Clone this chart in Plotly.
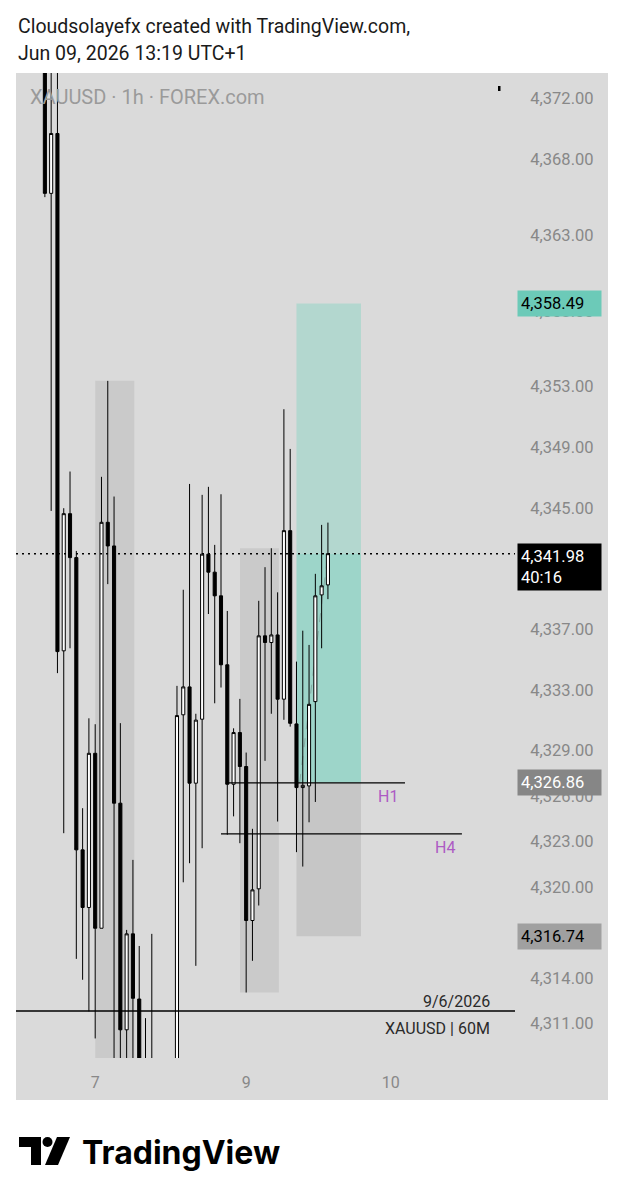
import plotly.graph_objects as go

W, H = 624, 1200

# ---------------- data ----------------
bar_index = list(range(46))
opens = [4376.5, 4365.75, 4369.7, 4335.57, 4344.62, 4341.72, 4322.44, 4318.64, 4328.81, 4317.27,
         4344.05, 4342.49, 4325.52, 4310.57, 4316.9, 4312.6, 4308.0, 4305.5, 4306.8, 4303.0,
         4305.0, 4306.0, 4331.35, 4333.19, 4326.84, 4331.06, 4341.95, 4340.76, 4339.2, 4334.65,
         4326.77, 4330.18, 4327.94, 4317.78, 4319.87, 4336.56, 4336.12, 4336.62, 4332.38, 4343.5,
         4330.75, 4326.55, 4326.66, 4332.22, 4339.26, 4339.92]
highs = [4379.0, 4377.0, 4375.0, 4344.98, 4347.4, 4342.16, 4325.19, 4331.12, 4330.73, 4347.05,
         4353.38, 4345.75, 4330.8, 4317.16, 4321.78, 4316.1, 4311.34, 4316.9, 4308.2, 4307.5,
         4308.0, 4333.26, 4339.6, 4346.58, 4331.42, 4345.86, 4346.39, 4342.56, 4345.9, 4338.2,
         4330.46, 4332.4, 4328.86, 4323.83, 4338.87, 4341.09, 4342.34, 4339.43, 4351.51, 4348.89,
         4334.86, 4336.9, 4335.96, 4340.65, 4343.88, 4344.03]
lows = [4365.5, 4344.8, 4334.1, 4323.54, 4335.74, 4315.25, 4313.87, 4311.78, 4310.0, 4317.27,
        4339.97, 4306.0, 4307.0, 4307.5, 4307.0, 4305.0, 4303.5, 4302.0, 4301.0, 4299.5,
        4300.5, 4302.5, 4320.3, 4321.56, 4314.79, 4322.55, 4338.0, 4332.11, 4333.15, 4323.44,
        4324.65, 4322.88, 4313.03, 4315.12, 4318.77, 4328.31, 4331.42, 4324.31, 4331.02, 4330.57,
        4322.29, 4321.34, 4324.26, 4325.6, 4335.74, 4338.98]
closes = [4365.75, 4369.7, 4335.52, 4344.62, 4341.72, 4322.44, 4318.64, 4328.81, 4317.27, 4344.05,
          4342.49, 4325.52, 4310.57, 4316.9, 4312.65, 4308.0, 4305.5, 4306.8, 4303.0, 4305.0,
          4306.0, 4331.3, 4333.19, 4326.84, 4331.0, 4341.95, 4340.76, 4339.2, 4334.65, 4326.77,
          4330.18, 4327.94, 4317.78, 4319.8, 4336.56, 4336.12, 4336.62, 4332.38, 4343.5, 4330.79,
          4326.55, 4326.7, 4332.04, 4339.2, 4339.86, 4341.98]

day_tick_bars = [8, 32, 55]
day_tick_labels = ["7", "9", "10"]

price_tick_vals = [4372, 4368, 4363, 4358, 4353, 4349, 4345, 4337, 4333, 4329, 4326,
                   4323, 4320, 4314, 4311]
price_tick_text = [f"{v:,.2f}" for v in price_tick_vals]

last_price = 4341.98
countdown = "40:16"
target_price = 4358.49
entry_price = 4326.86
stop_price = 4316.74
h1_level = 4326.86
h4_level = 4323.49
date_line_level = 4311.81
zone_left_top = 4353.38
zone_mid_top = 4342.34
zone_mid_bottom = 4313.03

X_RANGE = [-4.59, 74.74]
Y_RANGE = [4308.71, 4373.69]

def pxx(p):
    return p / W

def pxy(p):
    return 1 - p / H

fig = go.Figure()

fig.add_trace(go.Candlestick(
    x=bar_index, open=opens, high=highs, low=lows, close=closes,
    increasing=dict(line=dict(color="#000000", width=1), fillcolor="#ffffff"),
    decreasing=dict(line=dict(color="#000000", width=1), fillcolor="#000000"),
    hoverinfo="skip", showlegend=False,
))

shapes = []
# chart background
shapes.append(dict(type="rect", xref="paper", yref="paper", x0=pxx(16), x1=pxx(608),
                   y0=pxy(1100), y1=pxy(73), fillcolor="#dadada", line=dict(width=0), layer="below"))
# gray zones
shapes.append(dict(type="rect", xref="x", yref="y", x0=8.01, x1=14.21, y0=4300, y1=zone_left_top,
                   fillcolor="#cacaca", line=dict(width=0), layer="below"))
shapes.append(dict(type="rect", xref="x", yref="y", x0=31.02, x1=37.2, y0=zone_mid_bottom, y1=zone_mid_top,
                   fillcolor="#cacaca", line=dict(width=0), layer="below"))
# long position tool
shapes.append(dict(type="rect", xref="x", yref="y", x0=40.0, x1=50.25, y0=last_price, y1=target_price,
                   fillcolor="#b3d7cf", line=dict(width=0), layer="below"))
shapes.append(dict(type="rect", xref="x", yref="y", x0=40.0, x1=50.25, y0=entry_price, y1=last_price,
                   fillcolor="#9dd5c9", line=dict(width=0), layer="below"))
shapes.append(dict(type="rect", xref="x", yref="y", x0=40.0, x1=50.25, y0=stop_price, y1=entry_price,
                   fillcolor="#c6c6c6", line=dict(width=0), layer="below"))
shapes.append(dict(type="line", xref="x", yref="y", x0=40.5, x1=45.0, y0=entry_price, y1=last_price,
                   line=dict(color="rgba(90,90,90,0.35)", width=1, dash="dash"), layer="below"))
# level lines
shapes.append(dict(type="line", xref="x", yref="y", x0=28.9, x1=57.25, y0=h1_level, y1=h1_level,
                   line=dict(color="#000000", width=1.3)))
shapes.append(dict(type="line", xref="x", yref="y", x0=28.0, x1=66.3, y0=h4_level, y1=h4_level,
                   line=dict(color="#000000", width=1.3)))
shapes.append(dict(type="line", xref="paper", yref="y", x0=pxx(16), x1=pxx(515), y0=date_line_level,
                   y1=date_line_level, line=dict(color="#000000", width=1.5)))
shapes.append(dict(type="line", xref="paper", yref="y", x0=pxx(16), x1=pxx(515), y0=last_price,
                   y1=last_price, line=dict(color="#000000", width=1.6, dash="2px,4px")))
# small mark top right
shapes.append(dict(type="rect", xref="paper", yref="paper", x0=pxx(498), x1=pxx(500.5),
                   y0=pxy(91), y1=pxy(86), fillcolor="#000000", line=dict(width=0)))

# TradingView logo
def path_px(points):
    s = "M " + " L ".join(f"{pxx(x):.5f},{pxy(y):.5f}" for x, y in points) + " Z"
    return s

shapes.append(dict(type="path", xref="paper", yref="paper",
                   path=path_px([(19, 1137), (41, 1137), (41, 1165), (31, 1165), (31, 1147), (19, 1147)]),
                   fillcolor="#000000", line=dict(width=0)))
shapes.append(dict(type="circle", xref="paper", yref="paper", x0=pxx(42.5), x1=pxx(52.5),
                   y0=pxy(1147), y1=pxy(1137), fillcolor="#000000", line=dict(width=0)))
shapes.append(dict(type="path", xref="paper", yref="paper",
                   path=path_px([(57, 1137), (70, 1137), (58, 1165), (45, 1165)]),
                   fillcolor="#000000", line=dict(width=0)))

annotations = []
annotations.append(dict(xref="paper", yref="paper", x=pxx(16), y=pxy(26), xanchor="left", yanchor="middle",
                        text="Cloudsolayefx created with TradingView.com,", showarrow=False,
                        font=dict(family="Roboto", size=19.5, color="#1a1a1a")))
annotations.append(dict(xref="paper", yref="paper", x=pxx(16), y=pxy(53), xanchor="left", yanchor="middle",
                        text="Jun 09, 2026 13:19 UTC+1", showarrow=False,
                        font=dict(family="Roboto", size=19.5, color="#1a1a1a")))
annotations.append(dict(xref="paper", yref="paper", x=pxx(28), y=pxy(97), xanchor="left", yanchor="middle",
                        text="XAUUSD · 1h · FOREX.com", showarrow=False,
                        font=dict(family="Roboto", size=20, color="#9a9a9a")))
# price labels
annotations.append(dict(xref="paper", yref="y", x=pxx(517), y=target_price, xanchor="left", yanchor="middle",
                        text=f"{target_price:,.2f}", showarrow=False, bgcolor="#6ccab8", borderpad=3,
                        width=77, align="left", font=dict(family="Roboto", size=16.5, color="#000000")))
annotations.append(dict(xref="paper", yref="y", x=pxx(517), y=last_price, xanchor="left", yanchor="top",
                        yshift=11, text=f"{last_price:,.2f}<br>{countdown}", showarrow=False,
                        bgcolor="#000000", borderpad=3, width=77, align="left",
                        font=dict(family="Roboto", size=16.5, color="#ffffff")))
annotations.append(dict(xref="paper", yref="y", x=pxx(517), y=entry_price, xanchor="left", yanchor="middle",
                        text=f"{entry_price:,.2f}", showarrow=False, bgcolor="#868686", borderpad=3,
                        width=77, align="left", font=dict(family="Roboto", size=16.5, color="#ffffff")))
annotations.append(dict(xref="paper", yref="y", x=pxx(517), y=stop_price, xanchor="left", yanchor="middle",
                        text=f"{stop_price:,.2f}", showarrow=False, bgcolor="#a0a0a0", borderpad=3,
                        width=77, align="left", font=dict(family="Roboto", size=16.5, color="#000000")))
# level labels
annotations.append(dict(xref="x", yref="y", x=54.5, y=h1_level, yshift=-14, text="H1", showarrow=False,
                        font=dict(family="Roboto", size=16, color="#ad5ac4")))
annotations.append(dict(xref="x", yref="y", x=63.6, y=h4_level, yshift=-14, text="H4", showarrow=False,
                        font=dict(family="Roboto", size=16, color="#ad5ac4")))
annotations.append(dict(xref="x", yref="y", x=71.1, y=date_line_level, xanchor="right", yshift=10,
                        text="9/6/2026", showarrow=False,
                        font=dict(family="Roboto", size=16, color="#2a2a2a")))
annotations.append(dict(xref="x", yref="y", x=71.1, y=date_line_level, xanchor="right", yshift=-17,
                        text="XAUUSD | 60M", showarrow=False,
                        font=dict(family="Roboto", size=16, color="#2a2a2a")))
# footer wordmark
annotations.append(dict(xref="paper", yref="paper", x=pxx(80), y=pxy(1152), xanchor="left", yanchor="middle",
                        text="<b>TradingView</b>", showarrow=False,
                        font=dict(family="Inter", size=32, color="#000000")))

fig.update_layout(
    width=W, height=H,
    margin=dict(l=0, r=0, t=0, b=0),
    paper_bgcolor="#ffffff",
    plot_bgcolor="rgba(0,0,0,0)",
    shapes=shapes,
    annotations=annotations,
    showlegend=False,
    xaxis=dict(domain=[pxx(16), pxx(515)], range=X_RANGE, tickmode="array",
               tickvals=day_tick_bars, ticktext=day_tick_labels, showgrid=False, zeroline=False,
               showline=False, rangeslider=dict(visible=False), ticks="outside", ticklen=10,
               tickcolor="rgba(0,0,0,0)", tickfont=dict(family="Roboto", size=16, color="#888888"),
               fixedrange=True),
    yaxis=dict(domain=[pxy(1058), pxy(73)], range=Y_RANGE, side="right", tickmode="array",
               tickvals=price_tick_vals, ticktext=price_tick_text, showgrid=False, zeroline=False,
               showline=False, ticks="outside", ticklen=11, tickcolor="rgba(0,0,0,0)",
               tickfont=dict(family="Roboto", size=16.5, color="#888888"), fixedrange=True),
)

fig.write_html("out.html")
